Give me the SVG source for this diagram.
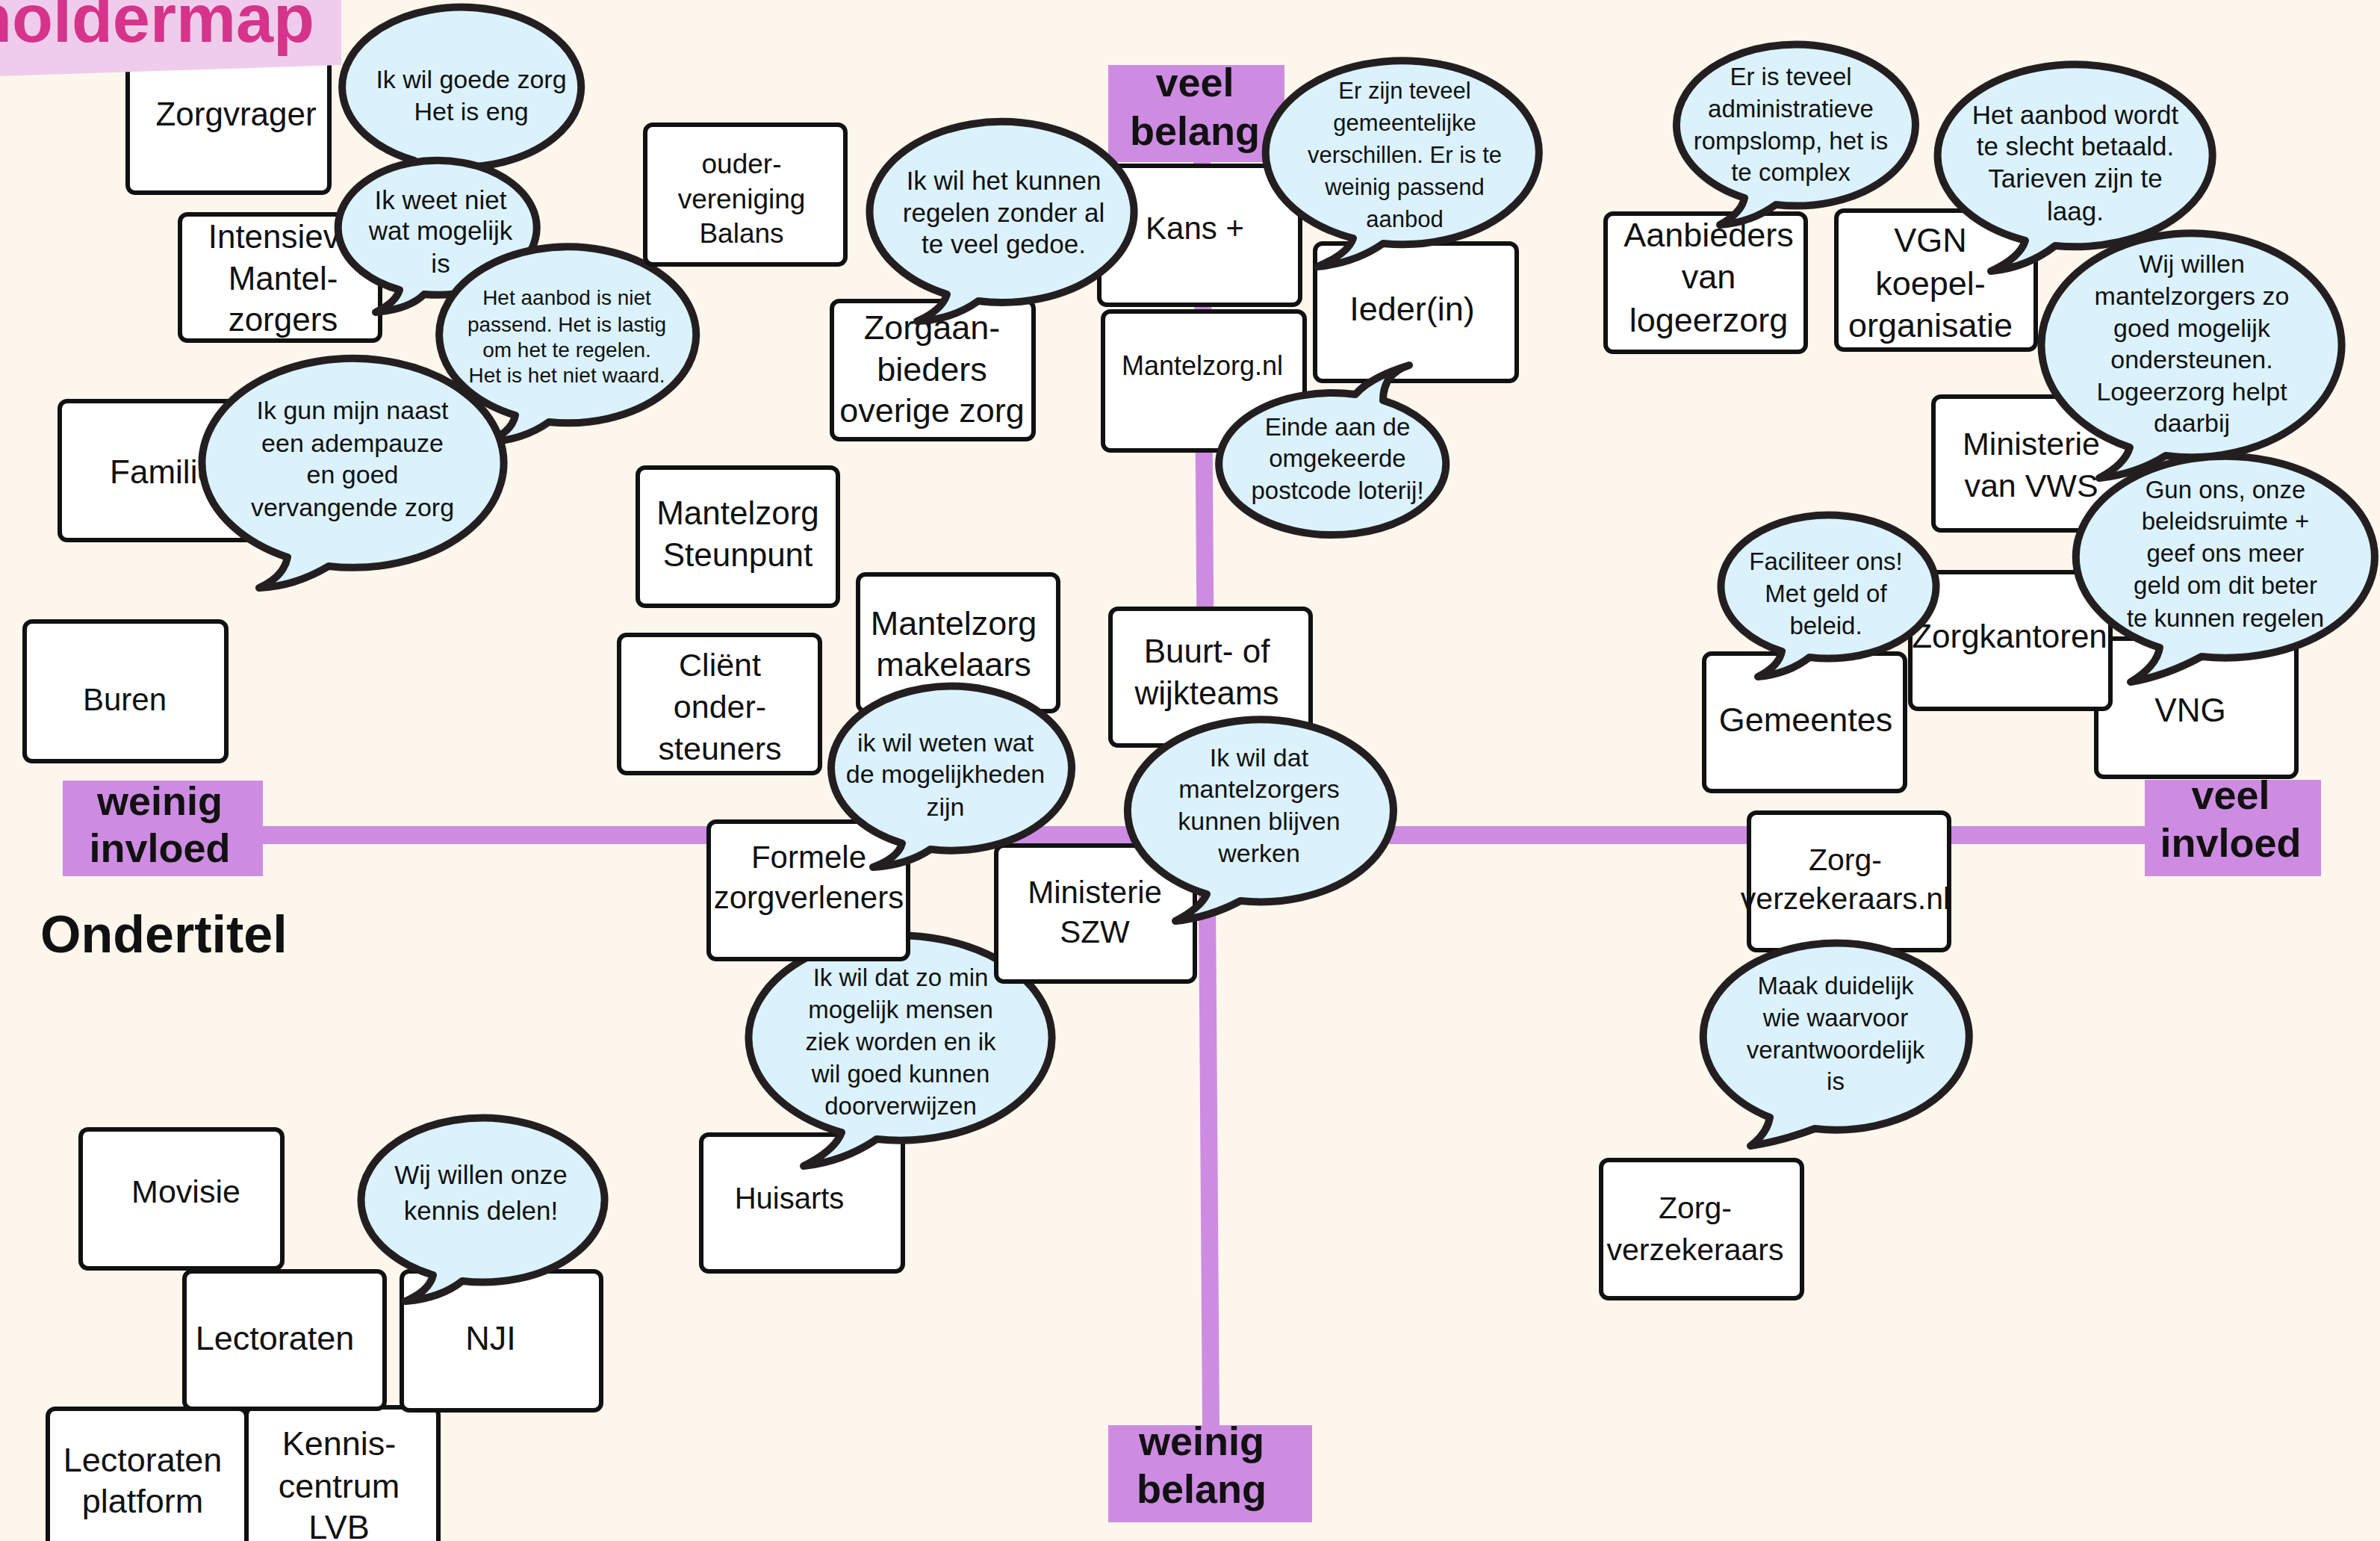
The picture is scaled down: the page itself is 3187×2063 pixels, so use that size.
<svg xmlns="http://www.w3.org/2000/svg" width="3187" height="2063" viewBox="0 0 3187 2063">
<defs>
<style>
.bg{fill:#fdf6ed}
.ax{fill:#cd8ce1}
.box{fill:#ffffff;stroke:#111111;stroke-width:6}
.bub{fill:#dbf2fd;stroke:#231f20;stroke-width:10;stroke-linejoin:round}
text{font-family:"Liberation Sans",Arial,sans-serif;fill:#111111;text-anchor:middle}
.bold{font-weight:bold}
</style>
</defs>
<rect class="bg" x="0" y="0" width="3187" height="2063"/>

<g id="connectors">
<polygon class="ax" points="1598,217 1621,217 1633,1908 1610,1908"/>
<rect class="ax" x="352" y="1106" width="2520" height="24"/>
</g>

<g id="axis-labels">
<g id="veel-belang"><rect class="ax" x="1484" y="87" width="236" height="130"/><text class="bold" font-size="54"><tspan x="1600" y="129">veel</tspan><tspan x="1600" y="194">belang</tspan></text></g>
<g id="weinig-belang"><rect class="ax" x="1484" y="1908" width="273" height="130"/><text class="bold" font-size="54"><tspan x="1609" y="1948">weinig</tspan><tspan x="1609" y="2012">belang</tspan></text></g>
<g id="weinig-invloed"><rect class="ax" x="84" y="1045" width="268" height="128"/><text class="bold" font-size="54"><tspan x="214" y="1091">weinig</tspan><tspan x="214" y="1154">invloed</tspan></text></g>
<g id="veel-invloed"><rect class="ax" x="2872" y="1044" width="236" height="129"/><text class="bold" font-size="54"><tspan x="2987" y="1083">veel</tspan><tspan x="2987" y="1147">invloed</tspan></text></g>
</g>

<text class="bold" x="54" y="1275" font-size="70" style="text-anchor:start">Ondertitel</text>

<g id="zorgvrager"><rect class="box" x="171" y="71" width="270" height="187" rx="10"/><text font-size="44" x="316" y="168">Zorgvrager</text></g>

<g id="title"><polygon points="0,0 457,0 457,87 0,102" fill="#efccec"/><text class="bold" x="421" y="56" font-size="90" fill="#d6338a" style="text-anchor:end;fill:#d6338a">Stakeholdermap</text></g>

<g id="bubble-goede-zorg"><path class="bub" d="M555,215 A160,107 0 1 1 600,223 Q575,245 540,252 Q556,235 555,215 Z"/><text font-size="34"><tspan x="631" y="118">Ik wil goede zorg</tspan><tspan x="631" y="161">Het is eng</tspan></text></g>

<g id="intensieve-mantelzorgers"><rect class="box" x="241" y="287" width="268" height="169" rx="10"/><text font-size="44"><tspan x="379" y="332">Intensieve</tspan><tspan x="379" y="388">Mantel-</tspan><tspan x="379" y="443">zorgers</tspan></text></g>

<g id="bubble-weet-niet"><path class="bub" d="M535,388 A133,90 0 1 1 568,394 Q548,414 503,418 Q530,405 535,388 Z"/><text font-size="35"><tspan x="590" y="280">Ik weet niet</tspan><tspan x="590" y="321">wat mogelijk</tspan><tspan x="590" y="365">is</tspan></text></g>

<g id="bubble-aanbod-niet-passend"><path class="bub" d="M690,556 A172,118 0 1 1 735,565 Q700,590 650,592 Q685,580 690,556 Z"/><text font-size="28"><tspan x="759" y="408">Het aanbod is niet</tspan><tspan x="759" y="444">passend. Het is lastig</tspan><tspan x="759" y="478">om het te regelen.</tspan><tspan x="759" y="512">Het is het niet waard.</tspan></text></g>

<g id="familie"><rect class="box" x="80" y="537" width="270" height="186" rx="10"/><text font-size="44" x="218" y="647">Familie</text></g>

<g id="bubble-adempauze"><path class="bub" d="M385,746 A202,140 0 1 1 440,758 Q395,785 347,787 Q380,772 385,746 Z"/><text font-size="34"><tspan x="472" y="561">Ik gun mijn naast</tspan><tspan x="472" y="605">een adempauze</tspan><tspan x="472" y="647">en goed</tspan><tspan x="472" y="691">vervangende zorg</tspan></text></g>

<g id="buren"><rect class="box" x="33" y="832" width="270" height="187" rx="10"/><text font-size="42" x="167" y="951">Buren</text></g>

<g id="oudervereniging-balans"><rect class="box" x="864" y="167" width="268" height="187" rx="10"/><text font-size="37"><tspan x="993" y="232">ouder-</tspan><tspan x="993" y="279">vereniging</tspan><tspan x="993" y="325">Balans</tspan></text></g>

<g id="zorgaanbieders"><rect class="box" x="1114" y="403" width="270" height="185" rx="10"/><text font-size="45"><tspan x="1248" y="454">Zorgaan-</tspan><tspan x="1248" y="510">bieders</tspan><tspan x="1248" y="565">overige zorg</tspan></text></g>

<g id="kans-plus"><rect class="box" x="1472" y="222" width="269" height="186" rx="10"/><text font-size="42" x="1600" y="320">Kans +</text></g>

<g id="bubble-gedoe"><path class="bub" d="M1268,394 A177,121 0 1 1 1310,403 Q1275,428 1228,430 Q1262,415 1268,394 Z"/><text font-size="35"><tspan x="1344" y="254">Ik wil het kunnen</tspan><tspan x="1344" y="297">regelen zonder al</tspan><tspan x="1344" y="339">te veel gedoe.</tspan></text></g>

<g id="iederin"><rect class="box" x="1761" y="326" width="270" height="184" rx="10"/><text font-size="45" x="1891" y="429">Ieder(in)</text></g>

<g id="bubble-gemeentelijke-verschillen"><path class="bub" d="M1812,319 A183,123 0 1 1 1852,326 Q1815,352 1764,357 Q1805,340 1812,319 Z"/><text font-size="31"><tspan x="1881" y="132">Er zijn teveel</tspan><tspan x="1881" y="175">gemeentelijke</tspan><tspan x="1881" y="218">verschillen. Er is te</tspan><tspan x="1881" y="261">weinig passend</tspan><tspan x="1881" y="304">aanbod</tspan></text></g>

<g id="mantelzorg-nl"><rect class="box" x="1477" y="417" width="270" height="186" rx="10"/><text font-size="36" x="1610" y="502">Mantelzorg.nl</text></g>

<g id="bubble-loterij"><path class="bub" d="M1852,536 A152,95 0 1 1 1815,528 Q1835,505 1887,489 Q1852,500 1852,536 Z"/><text font-size="33"><tspan x="1791" y="583">Einde aan de</tspan><tspan x="1791" y="625">omgekeerde</tspan><tspan x="1791" y="668">postcode loterij!</tspan></text></g>

<g id="mantelzorg-steunpunt"><rect class="box" x="854" y="626" width="268" height="185" rx="10"/><text font-size="44"><tspan x="988" y="702">Mantelzorg</tspan><tspan x="988" y="758">Steunpunt</tspan></text></g>

<g id="clientondersteuners"><rect class="box" x="829" y="850" width="269" height="185" rx="10"/><text font-size="43"><tspan x="964" y="905">Cliënt</tspan><tspan x="964" y="961">onder-</tspan><tspan x="964" y="1017">steuners</tspan></text></g>

<g id="mantelzorgmakelaars"><rect class="box" x="1149" y="769" width="268" height="183" rx="10"/><text font-size="45"><tspan x="1277" y="850">Mantelzorg</tspan><tspan x="1277" y="905">makelaars</tspan></text></g>

<g id="buurt-wijkteams"><rect class="box" x="1487" y="815" width="268" height="183" rx="10"/><text font-size="44"><tspan x="1616" y="887">Buurt- of</tspan><tspan x="1616" y="943">wijkteams</tspan></text></g>

<g id="huisarts"><rect class="box" x="939" y="1519" width="270" height="183" rx="10"/><text font-size="40" x="1057" y="1618">Huisarts</text></g>

<g id="bubble-doorverwijzen"><path class="bub" d="M1127,1516 A203,137 0 1 1 1174,1525 Q1130,1555 1076,1561 Q1118,1540 1127,1516 Z"/><text font-size="33"><tspan x="1206" y="1320">Ik wil dat zo min</tspan><tspan x="1206" y="1363">mogelijk mensen</tspan><tspan x="1206" y="1406">ziek worden en ik</tspan><tspan x="1206" y="1449">wil goed kunnen</tspan><tspan x="1206" y="1492">doorverwijzen</tspan></text></g>

<g id="formele-zorgverleners"><rect class="box" x="949" y="1100" width="267" height="184" rx="10"/><text font-size="42"><tspan x="1083" y="1162">Formele</tspan><tspan x="1083" y="1216">zorgverleners</tspan></text></g>

<g id="ministerie-szw"><rect class="box" x="1334" y="1132" width="266" height="182" rx="10"/><text font-size="42"><tspan x="1466" y="1209">Ministerie</tspan><tspan x="1466" y="1262">SZW</tspan></text></g>

<g id="bubble-mogelijkheden"><path class="bub" d="M1208,1129 A161,110 0 1 1 1246,1137 Q1215,1158 1169,1161 Q1203,1148 1208,1129 Z"/><text font-size="34"><tspan x="1266" y="1006">ik wil weten wat</tspan><tspan x="1266" y="1048">de mogelijkheden</tspan><tspan x="1266" y="1092">zijn</tspan></text></g>

<g id="bubble-blijven-werken"><path class="bub" d="M1616,1197 A178,122 0 1 1 1661,1206 Q1620,1228 1574,1233 Q1608,1215 1616,1197 Z"/><text font-size="34"><tspan x="1686" y="1026">Ik wil dat</tspan><tspan x="1686" y="1068">mantelzorgers</tspan><tspan x="1686" y="1111">kunnen blijven</tspan><tspan x="1686" y="1154">werken</tspan></text></g>

<g id="movisie"><rect class="box" x="108" y="1512" width="270" height="186" rx="10"/><text font-size="43" x="249" y="1610">Movisie</text></g>

<g id="kenniscentrum-lvb"><rect class="box" x="330" y="1884" width="257" height="200" rx="10"/><text font-size="45"><tspan x="454" y="1948">Kennis-</tspan><tspan x="454" y="2005">centrum</tspan><tspan x="454" y="2060">LVB</tspan></text></g>

<g id="lectoraten-platform"><rect class="box" x="64" y="1886" width="266" height="200" rx="10"/><text font-size="45"><tspan x="191" y="1970">Lectoraten</tspan><tspan x="191" y="2025">platform</tspan></text></g>

<g id="lectoraten"><rect class="box" x="247" y="1702" width="268" height="184" rx="10"/><text font-size="45" x="368" y="1807">Lectoraten</text></g>

<g id="nji"><rect class="box" x="538" y="1702" width="267" height="186" rx="10"/><text font-size="45" x="657" y="1807">NJI</text></g>

<g id="bubble-kennis-delen"><path class="bub" d="M580,1707 A163,110 0 1 1 619,1715 Q590,1738 543,1742 Q575,1728 580,1707 Z"/><text font-size="35"><tspan x="644" y="1585">Wij willen onze</tspan><tspan x="644" y="1633">kennis delen!</tspan></text></g>

<g id="aanbieders-logeerzorg"><rect class="box" x="2150" y="286" width="268" height="185" rx="10"/><text font-size="45"><tspan x="2288" y="330">Aanbieders</tspan><tspan x="2288" y="386">van</tspan><tspan x="2288" y="444">logeerzorg</tspan></text></g>

<g id="bubble-rompslomp"><path class="bub" d="M2336,265 A160,108 0 1 1 2378,274 Q2345,298 2303,301 Q2332,285 2336,265 Z"/><text font-size="33"><tspan x="2398" y="114">Er is teveel</tspan><tspan x="2398" y="157">administratieve</tspan><tspan x="2398" y="200">rompslomp, het is</tspan><tspan x="2398" y="242">te complex</tspan></text></g>

<g id="vgn"><rect class="box" x="2459" y="282" width="267" height="186" rx="10"/><text font-size="45"><tspan x="2585" y="337">VGN</tspan><tspan x="2585" y="395">koepel-</tspan><tspan x="2585" y="451">organisatie</tspan></text></g>

<g id="bubble-slecht-betaald"><path class="bub" d="M2712,322 A184,122 0 1 1 2752,329 Q2715,358 2666,363 Q2705,345 2712,322 Z"/><text font-size="35"><tspan x="2779" y="166">Het aanbod wordt</tspan><tspan x="2779" y="208">te slecht betaald.</tspan><tspan x="2779" y="251">Tarieven zijn te</tspan><tspan x="2779" y="295">laag.</tspan></text></g>

<g id="ministerie-vws"><rect class="box" x="2589" y="531" width="267" height="179" rx="10"/><text font-size="43"><tspan x="2720" y="609">Ministerie</tspan><tspan x="2720" y="665">van VWS</tspan></text></g>

<g id="bubble-ondersteunen"><path class="bub" d="M2852,599 A201,150 0 1 1 2900,610 Q2860,635 2811,640 Q2845,622 2852,599 Z"/><text font-size="34"><tspan x="2935" y="365">Wij willen</tspan><tspan x="2935" y="408">mantelzorgers zo</tspan><tspan x="2935" y="451">goed mogelijk</tspan><tspan x="2935" y="493">ondersteunen.</tspan><tspan x="2935" y="536">Logeerzorg helpt</tspan><tspan x="2935" y="578">daarbij</tspan></text></g>

<g id="vng"><rect class="box" x="2807" y="855" width="268" height="185" rx="10"/><text font-size="44" x="2933" y="966">VNG</text></g>

<g id="zorgkantoren"><rect class="box" x="2558" y="766" width="268" height="183" rx="10"/><text font-size="44" x="2691" y="867">Zorgkantoren</text></g>

<g id="bubble-beleidsruimte"><path class="bub" d="M2892,867 A200,135 0 1 1 2948,879 Q2900,905 2853,913 Q2888,892 2892,867 Z"/><text font-size="33"><tspan x="2980" y="667">Gun ons, onze</tspan><tspan x="2980" y="709">beleidsruimte +</tspan><tspan x="2980" y="752">geef ons meer</tspan><tspan x="2980" y="795">geld om dit beter</tspan><tspan x="2980" y="839">te kunnen regelen</tspan></text></g>

<g id="gemeentes"><rect class="box" x="2282" y="875" width="269" height="184" rx="10"/><text font-size="45" x="2418" y="979">Gemeentes</text></g>

<g id="bubble-faciliteer"><path class="bub" d="M2386,872 A144,96 0 1 1 2423,880 Q2395,902 2354,906 Q2382,892 2386,872 Z"/><text font-size="33"><tspan x="2445" y="763">Faciliteer ons!</tspan><tspan x="2445" y="806">Met geld of</tspan><tspan x="2445" y="849">beleid.</tspan></text></g>

<g id="zorgverzekeraars-nl"><rect class="box" x="2342" y="1088" width="268" height="184" rx="10"/><text font-size="41"><tspan x="2471" y="1165">Zorg-</tspan><tspan x="2471" y="1217">verzekeraars.nl</tspan></text></g>

<g id="bubble-verantwoordelijk"><path class="bub" d="M2370,1496 A178,125 0 1 1 2430,1511 Q2385,1528 2344,1534 Q2366,1518 2370,1496 Z"/><text font-size="33"><tspan x="2458" y="1331">Maak duidelijk</tspan><tspan x="2458" y="1374">wie waarvoor</tspan><tspan x="2458" y="1417">verantwoordelijk</tspan><tspan x="2458" y="1459">is</tspan></text></g>

<g id="zorgverzekeraars"><rect class="box" x="2144" y="1553" width="269" height="185" rx="10"/><text font-size="41"><tspan x="2270" y="1631">Zorg-</tspan><tspan x="2270" y="1687">verzekeraars</tspan></text></g>
</svg>
